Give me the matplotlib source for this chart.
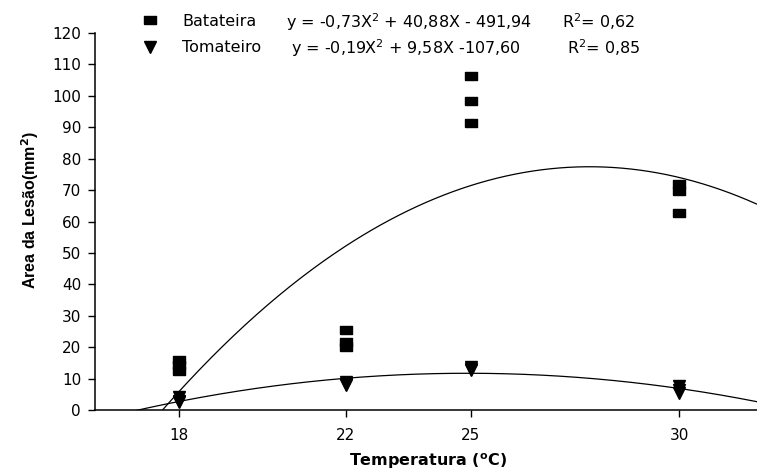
import matplotlib
matplotlib.use("Agg")
import matplotlib.pyplot as plt
import numpy as np

plt.rcParams["font.family"] = "DejaVu Sans"
plt.rcParams["mathtext.fontset"] = "dejavusans"

# lesion area (mm2) per temperature, three readings each
temps = [18, 22, 25, 30]
batateira = [[16.0, 14.2, 12.4],
             [25.6, 21.6, 19.9],
             [106.4, 98.4, 91.2],
             [71.9, 69.6, 62.6]]
tomateiro = [[4.0, 3.0, 2.5],
             [9.0, 8.4, 7.8],
             [13.8, 13.2, 12.7],
             [7.5, 6.5, 5.5]]

eq_bat = "y = -0,73X$^2$ + 40,88X - 491,94"
eq_tom = "y = -0,19X$^2$ + 9,58X -107,60"
r2_bat = "R$^2$= 0,62"
r2_tom = "R$^2$= 0,85"

W, H = 757, 470
fig = plt.figure(figsize=(W / 100, H / 100), dpi=100)
ax = fig.add_axes([95 / W, 60 / H, 1 - 95 / W, 377 / H])

# wide rectangle marker
rect = [(-1.37, -1), (1.37, -1), (1.37, 1), (-1.37, 1), (-1.37, -1)]

xb = np.repeat(temps, 3)
yb = np.concatenate(batateira)
xt = np.repeat(temps, 3)
yt = np.concatenate(tomateiro)

# quadratic regression curves
xs = np.linspace(16, 32, 300)
cb = np.polyfit(xb, yb, 2)
ct = np.polyfit(xt, yt, 2)
ax.plot(xs, np.polyval(cb, xs), color="black", lw=0.9, zorder=2)
ax.plot(xs, np.polyval(ct, xs), color="black", lw=0.9, zorder=2)

ax.plot(xb, yb, ls="none", marker=rect, ms=8.4, color="black", zorder=3)
ax.plot(xt, yt, ls="none", marker="v", ms=8.5, color="black", zorder=3)

ax.set_xlim(16, 16 + (W - 95) / 41.75)
ax.set_ylim(0, 120)
ax.set_xticks(temps)
ax.set_yticks(np.arange(0, 121, 10))
for s in ["top", "right"]:
    ax.spines[s].set_visible(False)
for s in ["left", "bottom"]:
    ax.spines[s].set_linewidth(1.1)
ax.tick_params(axis="both", direction="out", length=5, width=1.0, labelsize=11)
ax.tick_params(axis="x", pad=8)
ax.tick_params(axis="y", pad=5)

fig.text(428 / W, 1 - 461 / H, "Temperatura ($^{\\mathbf{o}}$C)",
         ha="center", va="center", fontsize=11.5, fontweight="bold")
fig.text(30 / W, 1 - 210 / H, "Area da Lesão(mm$^{\\mathbf{2}}$)", rotation=90,
         ha="center", va="center", fontsize=11.5, fontweight="bold",
         family="Liberation Sans")

# legend block above the plot
ax.plot([150 / W], [1 - 20 / H], ls="none", marker=rect, ms=8.4, color="black",
        transform=fig.transFigure, clip_on=False)
ax.plot([150 / W], [1 - 47 / H], ls="none", marker="v", ms=8.5, color="black",
        transform=fig.transFigure, clip_on=False)
rows = [(22, "Batateira", eq_bat, r2_bat, 286, 562),
        (48, "Tomateiro", eq_tom, r2_tom, 291, 567)]
for y, name, eq, r2, xe, xr in rows:
    fig.text(182 / W, 1 - y / H, name, ha="left", va="center", fontsize=11.5)
    fig.text(xe / W, 1 - y / H, eq, ha="left", va="center", fontsize=11.5)
    fig.text(xr / W, 1 - y / H, r2, ha="left", va="center", fontsize=11.5)

fig.savefig("out.png", dpi=100)
